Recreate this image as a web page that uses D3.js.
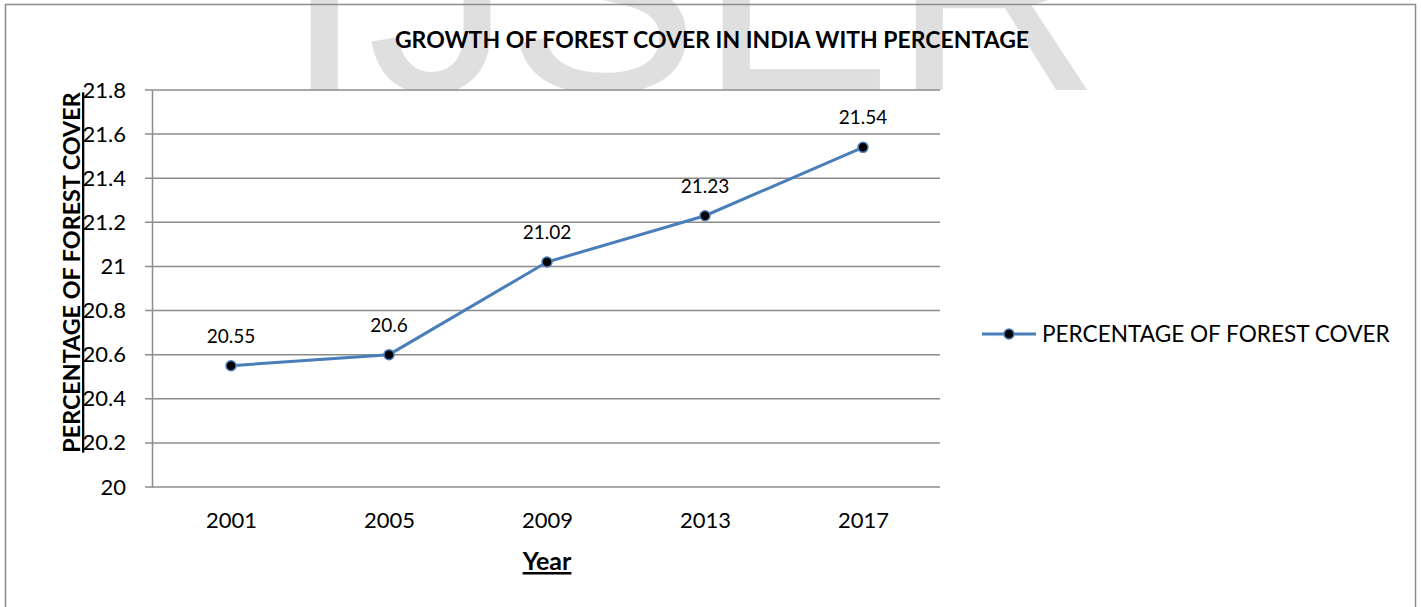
<!DOCTYPE html>
<html>
<head>
<meta charset="utf-8">
<script src="https://cdn.jsdelivr.net/npm/d3@7"></script>
<style>
  html, body { margin: 0; padding: 0; background: #fff; }
  svg { display: block; }
  text { font-family: Lato, "Open Sans", sans-serif; fill: #000; }
</style>
</head>
<body>
<svg id="chart" width="1421" height="607"></svg>
<script>
const years = ["2001", "2005", "2009", "2013", "2017"];
const forestCover = [20.55, 20.6, 21.02, 21.23, 21.54];
const yTicks = [20, 20.2, 20.4, 20.6, 20.8, 21, 21.2, 21.4, 21.6, 21.8];
const yTickLabels = ["20", "20.2", "20.4", "20.6", "20.8", "21", "21.2", "21.4", "21.6", "21.8"];
const dataLabels = ["20.55", "20.6", "21.02", "21.23", "21.54"];
const titleText = "GROWTH OF FOREST COVER IN INDIA WITH PERCENTAGE";
const yTitle = "PERCENTAGE OF FOREST COVER";
const xTitle = "Year";
const seriesName = "PERCENTAGE OF FOREST COVER";
const watermark = ["I", "J", "S", "E", "R"];

const svg = d3.select("#chart");
const gridColor = "#8c8c8c";
const lineColor = "#4a7ebb";

// watermark (only visible above plot area)
svg.append("clipPath").attr("id", "wmclip")
  .append("rect").attr("x", 0).attr("y", 0).attr("width", 1421).attr("height", 90);
const wmX = [284, 367, 506, 699, 892];
svg.append("g").attr("clip-path", "url(#wmclip)")
  .selectAll("text").data(watermark).join("text")
  .attr("x", (d, i) => wmX[i]).attr("y", 91)
  .style("font-family", "'Liberation Sans', Arial, sans-serif")
  .style("font-size", "290px")
  .style("fill", "#dfdfdf")
  .text(d => d);

// outer border
svg.append("rect").attr("x", 5.5).attr("y", 4.5).attr("width", 1410).attr("height", 620)
  .attr("fill", "none").attr("stroke", gridColor).attr("stroke-width", 1.5);

const plot = { left: 152, right: 942, top: 90, bottom: 487 };
svg.append("rect").attr("x", plot.left).attr("y", plot.top)
  .attr("width", plot.right - plot.left).attr("height", plot.bottom - plot.top).attr("fill", "#fff");

const x = d3.scalePoint().domain(years).range([plot.left, plot.right]).padding(0.5);
const y = d3.scaleLinear().domain([20, 21.8]).range([plot.bottom, plot.top]);

// gridlines
svg.append("g").selectAll("line").data(yTicks).join("line")
  .attr("x1", plot.left - 7).attr("x2", 940)
  .attr("y1", d => y(d)).attr("y2", d => y(d))
  .attr("stroke", gridColor).attr("stroke-width", 1.5);

// y axis
const yAxis = d3.axisLeft(y).tickValues(yTicks).tickFormat((d, i) => yTickLabels[i]).tickSize(0).tickPadding(26);
const gy = svg.append("g").attr("transform", `translate(${plot.left},0)`).call(yAxis);
gy.select(".domain").attr("stroke", gridColor).attr("stroke-width", 1.5);
gy.selectAll("text").style("font-size", "22px").style("font-family", "Lato, sans-serif").attr("fill", "#000");

// x axis
const xAxis = d3.axisBottom(x).tickSize(0).tickPadding(25);
const gx = svg.append("g").attr("transform", `translate(0,${plot.bottom})`).call(xAxis);
gx.select(".domain").remove();
gx.selectAll("text").style("font-size", "22px").style("font-family", "Lato, sans-serif").attr("fill", "#000");

// line
const line = d3.line().x((d, i) => x(years[i])).y(d => y(d));
svg.append("path").datum(forestCover).attr("d", line)
  .attr("fill", "none").attr("stroke", lineColor).attr("stroke-width", 3);

svg.append("g").selectAll("circle").data(forestCover).join("circle")
  .attr("cx", (d, i) => x(years[i])).attr("cy", d => y(d)).attr("r", 5)
  .attr("fill", "#000").attr("stroke", lineColor).attr("stroke-width", 1.5);

// data labels
svg.append("g").selectAll("text").data(forestCover).join("text")
  .attr("x", (d, i) => x(years[i])).attr("y", d => y(d) - 23)
  .attr("text-anchor", "middle")
  .style("font-size", "19px")
  .text((d, i) => dataLabels[i]);

// title
svg.append("text").attr("x", 712).attr("y", 48).attr("text-anchor", "middle")
  .style("font-size", "23px").style("font-weight", "bold").text(titleText);

// y title
svg.append("text").attr("transform", `translate(80,${(95 + 450) / 2}) rotate(-90)`)
  .attr("text-anchor", "middle")
  .style("font-size", "23.3px").style("font-weight", "bold")
  .style("text-decoration", "underline")
  .text(yTitle);

// x title
svg.append("text").attr("x", 547).attr("y", 570).attr("text-anchor", "middle")
  .style("font-size", "25px").style("font-weight", "bold")
  .style("text-decoration", "underline")
  .text(xTitle);

// legend
const lg = svg.append("g").attr("transform", "translate(982,334)");
lg.append("line").attr("x1", 0).attr("x2", 54).attr("y1", 0).attr("y2", 0)
  .attr("stroke", lineColor).attr("stroke-width", 3);
lg.append("circle").attr("cx", 27).attr("cy", 0).attr("r", 5)
  .attr("fill", "#000").attr("stroke", lineColor).attr("stroke-width", 1.5);
lg.append("text").attr("x", 60).attr("y", 0).attr("dy", "0.36em")
  .style("font-size", "22.6px").text(seriesName);
</script>
</body>
</html>
